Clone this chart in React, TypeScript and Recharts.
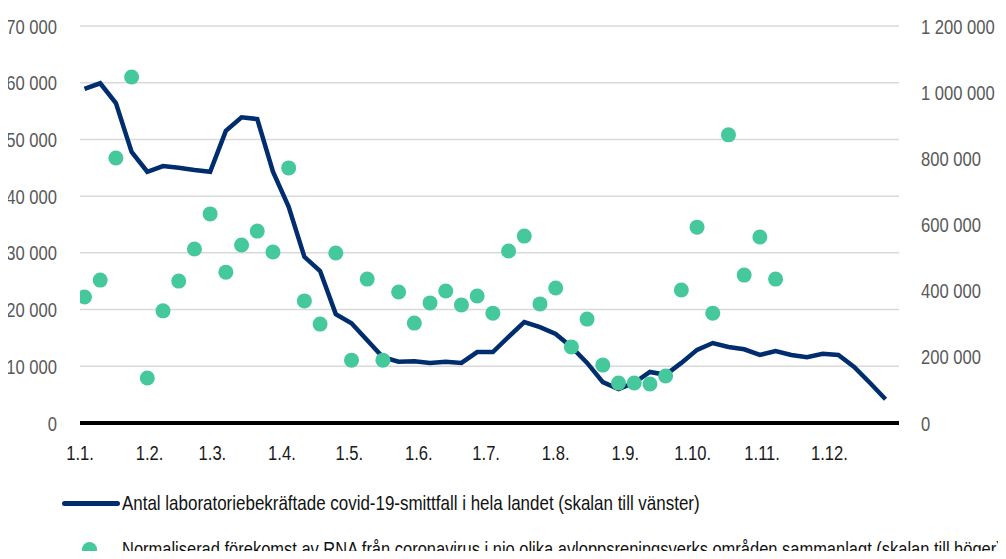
import { useLayoutEffect, useRef, useState } from "react";
import { ComposedChart, Line, Scatter, XAxis, YAxis, CartesianGrid } from "recharts";

const FONT = '"Liberation Sans", Arial, sans-serif';
const SQUEEZE = 0.79; // mimic a condensed face
const LINE_COLOR = "#002d6e";
const DOT_COLOR = "#45c89b";
const GRID_COLOR = "#d9d9d9";

// week dates (one point per week)
const weekDates = [
  "2021-01-03", "2021-01-10", "2021-01-17", "2021-01-24", "2021-01-31",
  "2021-02-07", "2021-02-14", "2021-02-21", "2021-02-28",
  "2021-03-07", "2021-03-14", "2021-03-21", "2021-03-28",
  "2021-04-04", "2021-04-11", "2021-04-18", "2021-04-25",
  "2021-05-02", "2021-05-09", "2021-05-16", "2021-05-23", "2021-05-30",
  "2021-06-06", "2021-06-13", "2021-06-20", "2021-06-27",
  "2021-07-04", "2021-07-11", "2021-07-18", "2021-07-25",
  "2021-08-01", "2021-08-08", "2021-08-15", "2021-08-22", "2021-08-29",
  "2021-09-05", "2021-09-12", "2021-09-19", "2021-09-26",
  "2021-10-03", "2021-10-10", "2021-10-17", "2021-10-24", "2021-10-31",
  "2021-11-07", "2021-11-14", "2021-11-21", "2021-11-28",
  "2021-12-05", "2021-12-12", "2021-12-19", "2021-12-26",
];

// laboratory confirmed cases (left scale)
const cases = [
  58900, 59900, 56400, 47800, 44300, 45300, 45000, 44600, 44300, 51500,
  53900, 53600, 44300, 38100, 29300, 26800, 19200, 17600, 14600, 11600,
  10800, 10900, 10600, 10800, 10600, 12500, 12500, 15200, 17800, 16900,
  15700, 13400, 10600, 7200, 6000, 7100, 9000, 8500, 10600, 12900,
  14100, 13400, 13000, 12000, 12700, 12000, 11600, 12200, 12000, 9900,
  7100, 4200,
];

// normalised RNA in wastewater (right scale), first 45 weeks
const rna = [
  381000, 432000, 801000, 1046000, 136000, 339000, 429000, 526000, 632000, 456000,
  538000, 580000, 517000, 771000, 369000, 299000, 514000, 190000, 435000, 190000,
  396000, 302000, 363000, 399000, 357000, 384000, 332000, 520000, 565000, 360000,
  408000, 230000, 314000, 175000, 121000, 121000, 118000, 142000, 402000, 592000,
  332000, 871000, 447000, 562000, 435000,
];

const monthStarts = [
  "2021-01-01", "2021-02-01", "2021-03-01", "2021-04-01", "2021-05-01", "2021-06-01",
  "2021-07-01", "2021-08-01", "2021-09-01", "2021-10-01", "2021-11-01", "2021-12-01",
];
const monthLabels = ["1.1.", "1.2.", "1.3.", "1.4.", "1.5.", "1.6.", "1.7.", "1.8.", "1.9.", "1.10.", "1.11.", "1.12."];

const leftTicks = [0, 10000, 20000, 30000, 40000, 50000, 60000, 70000];
const rightTicks = [0, 200000, 400000, 600000, 800000, 1000000, 1200000];

const legendLine = "Antal laboratoriebekräftade covid-19-smittfall i hela landet (skalan till vänster)";
const legendDots = "Normaliserad förekomst av RNA från coronavirus i nio olika avloppsreningsverks områden sammanlagt (skalan till höger)";

const YEAR_START = Date.UTC(2021, 0, 1);
const dayOf = (iso: string) => Math.round((Date.parse(iso + "T00:00:00Z") - YEAR_START) / 86400000);
const monthTicks = monthStarts.map(dayOf);

const lineData = weekDates.map((d, i) => ({ day: dayOf(d), cases: cases[i] }));
const dotData = rna.map((v, i) => ({ day: dayOf(weekDates[i]), rna: v }));

const fmt = (v: number) => String(v).replace(/\B(?=(\d{3})+(?!\d))/g, " ");
const monthLabel = (v: number) => monthLabels[monthTicks.indexOf(v)] ?? "";

function NarrowTick(props: any) {
  const { x, y, payload, anchor, dy, fill, format } = props;
  return (
    <g transform={`translate(${x},${y})`}>
      <text transform={`scale(${SQUEEZE},1)`} textAnchor={anchor} dy={dy} fill={fill} fontSize={21} fontFamily={FONT}>
        {format(payload.value)}
      </text>
    </g>
  );
}

// squeezes a legend label so it spans the same width as in the original
function FitText({ text, width }: { text: string; width: number }) {
  const ref = useRef<HTMLSpanElement>(null);
  const [scale, setScale] = useState(SQUEEZE);
  useLayoutEffect(() => {
    if (ref.current) setScale(width / ref.current.offsetWidth);
  }, [text, width]);
  return (
    <span
      ref={ref}
      style={{ display: "inline-block", fontSize: 21, color: "#111", transform: `scaleX(${scale})`, transformOrigin: "left center" }}
    >
      {text}
    </span>
  );
}

export default function App() {
  return (
    <div style={{ position: "relative", width: 1006, height: 559, margin: -8, background: "#fff", fontFamily: FONT, overflow: "hidden" }}>
      <ComposedChart
        width={1006}
        height={470}
        data={lineData}
        margin={{ top: 26, right: 0, bottom: 0, left: 0 }}
      >
        <CartesianGrid yAxisId="left" vertical={false} stroke={GRID_COLOR} strokeWidth={1.5} />
        <XAxis
          dataKey="day"
          type="number"
          domain={[0, 365]}
          ticks={monthTicks}
          interval={0}
          allowDataOverflow
          axisLine={{ stroke: "#000", strokeWidth: 4 }}
          tickLine={false}
          tickSize={0}
          tickMargin={22}
          height={47}
          tick={<NarrowTick anchor="middle" dy="0.71em" fill="#1a1a1a" format={monthLabel} />}
        />
        <YAxis
          yAxisId="left"
          domain={[0, 70000]}
          ticks={leftTicks}
          axisLine={false}
          tickLine={false}
          tickSize={0}
          tickMargin={23}
          width={80}
          tick={<NarrowTick anchor="end" dy="0.36em" fill="#595959" format={fmt} />}
        />
        <YAxis
          yAxisId="right"
          orientation="right"
          domain={[0, 1200000]}
          ticks={rightTicks}
          axisLine={false}
          tickLine={false}
          tickSize={0}
          tickMargin={22}
          width={107}
          tick={<NarrowTick anchor="start" dy="0.36em" fill="#595959" format={fmt} />}
        />
        <Line
          yAxisId="left"
          dataKey="cases"
          type="linear"
          stroke={LINE_COLOR}
          strokeWidth={4.5}
          dot={false}
          isAnimationActive={false}
        />
        <Scatter
          yAxisId="right"
          data={dotData}
          dataKey="rna"
          fill={DOT_COLOR}
          isAnimationActive={false}
          shape={(p: any) => <circle cx={p.cx} cy={p.cy} r={7.5} fill={DOT_COLOR} />}
        />
      </ComposedChart>

      <div style={{ position: "absolute", left: 62, top: 491, height: 24, display: "flex", alignItems: "center", whiteSpace: "nowrap" }}>
        <div style={{ width: 58, height: 5, borderRadius: 3, background: LINE_COLOR, flex: "none", marginRight: 2 }} />
        <FitText text={legendLine} width={578} />
      </div>
      <div style={{ position: "absolute", left: 82, top: 537, height: 24, display: "flex", alignItems: "center", whiteSpace: "nowrap" }}>
        <div style={{ width: 15, height: 15, borderRadius: "50%", background: DOT_COLOR, flex: "none", marginRight: 25 }} />
        <FitText text={legendDots} width={880} />
      </div>
    </div>
  );
}
